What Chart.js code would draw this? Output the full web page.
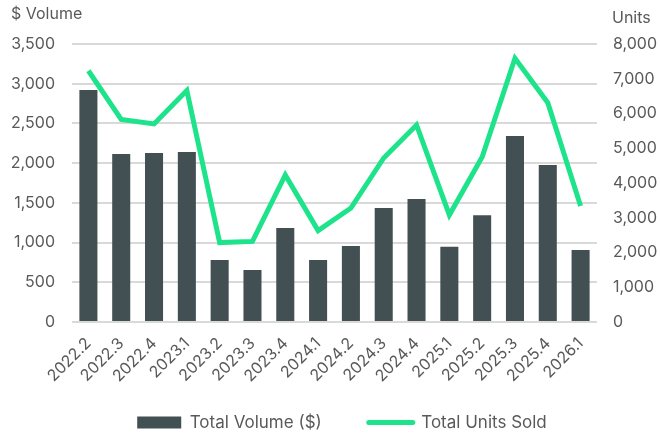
<!DOCTYPE html>
<html>
<head>
<meta charset="utf-8">
<script src="https://cdn.jsdelivr.net/npm/chart.js"></script>
<style>
  html, body { margin: 0; padding: 0; background: #fff; }
  #wrap { width: 660px; height: 437px; }
</style>
</head>
<body>
<div id="wrap"><canvas id="chart" width="660" height="437"></canvas></div>
<script>
// quarters on the x axis
const quarters = ['2022.2', '2022.3', '2022.4', '2023.1', '2023.2', '2023.3', '2023.4', '2024.1',
                  '2024.2', '2024.3', '2024.4', '2025.1', '2025.2', '2025.3', '2025.4', '2026.1'];

// total volume in $ (left axis)
const totalVolume = [2920, 2115, 2128, 2140, 780, 655, 1183, 780,
                     957, 1435, 1549, 948, 1343, 2342, 1977, 906];

// total units sold (right axis)
const unitsSold = [7230, 5830, 5700, 6660, 2285, 2320, 4230, 2630,
                   3280, 4720, 5670, 3080, 4750, 7590, 6310, 3340];

const volumeTicks = { min: 0, max: 3500, step: 500 };
const unitTicks = { min: 0, max: 8000, step: 1000 };

const textColor = '#595959';
const barColor = '#435053';
const lineColor = '#1de38b';
const fontFamily = 'Inter, "Noto Sans", sans-serif';

// axis titles sit above each axis, not beside it
const axisTitles = {
    id: 'axisTitles',
    afterDraw(chart) {
        const ctx = chart.ctx;
        ctx.save();
        ctx.fillStyle = textColor;
        ctx.font = '16px ' + fontFamily;
        ctx.textBaseline = 'middle';
        ctx.textAlign = 'left';
        ctx.fillText('$ Volume', 11, 14);
        ctx.fillText('Units', 612, 18);
        ctx.restore();
    }
};

// wide gap between legend items needs a big label padding,
// so the legend takes little room in the layout and is stretched up afterwards
const legendPlacement = {
    id: 'legendPlacement',
    beforeInit(chart) {
        const legend = chart.legend;
        if (!legend) return;
        const fit = legend.fit;
        legend.fit = function () {
            fit.call(this);
            this.height = 42;
        };
    },
    afterLayout(chart) {
        const legend = chart.legend;
        if (!legend) return;
        legend.top = 367;
        legend.bottom = chart.height;
        legend.height = legend.bottom - legend.top;
        // reference legend sits a little right of centre
        legend.left += 12;
        legend.right += 12;
    }
};

new Chart(document.getElementById('chart'), {
    data: {
        labels: quarters,
        datasets: [
            {
                type: 'line',
                label: 'Total Units Sold',
                data: unitsSold,
                yAxisID: 'yUnits',
                borderColor: lineColor,
                backgroundColor: lineColor,
                borderWidth: 5,
                pointRadius: 0,
                tension: 0,
                order: 0
            },
            {
                type: 'bar',
                label: 'Total Volume ($)',
                data: totalVolume,
                yAxisID: 'yVolume',
                backgroundColor: barColor,
                borderWidth: 0,
                barPercentage: 0.55,
                categoryPercentage: 1,
                order: 1
            }
        ]
    },
    options: {
        responsive: false,
        animation: false,
        layout: { padding: { top: 44, left: 0, right: 0, bottom: 0 } },
        plugins: {
            tooltip: { enabled: false },
            legend: {
                position: 'bottom',
                reverse: true,
                labels: {
                    color: textColor,
                    font: { size: 17, family: fontFamily },
                    usePointStyle: true,
                    pointStyleWidth: 44,
                    boxHeight: 12,
                    padding: 47,
                    generateLabels(chart) {
                        return chart.data.datasets.map((ds, i) => ({
                            text: ds.label,
                            fillStyle: ds.backgroundColor,
                            strokeStyle: ds.type === 'line' ? ds.borderColor : ds.backgroundColor,
                            lineWidth: ds.type === 'line' ? 5 : 0,
                            lineCap: 'round',
                            pointStyle: ds.type === 'line' ? 'line' : 'rect',
                            fontColor: textColor,
                            datasetIndex: i,
                            hidden: false
                        }));
                    }
                }
            }
        },
        scales: {
            x: {
                grid: { display: false },
                border: { display: false },
                ticks: {
                    color: textColor,
                    font: { size: 16, family: fontFamily },
                    maxRotation: 45,
                    minRotation: 45,
                    autoSkip: false,
                    padding: 4
                },
                afterFit(scale) { scale.height = 73; }
            },
            yVolume: {
                position: 'left',
                min: volumeTicks.min,
                max: volumeTicks.max,
                border: { display: false },
                grid: { color: '#d9d9d9', lineWidth: 2, drawTicks: false },
                ticks: {
                    stepSize: volumeTicks.step,
                    color: textColor,
                    font: { size: 16, family: fontFamily },
                    padding: 17,
                    callback: v => v.toLocaleString('en-US')
                },
                afterFit(scale) { scale.width = 72; }
            },
            yUnits: {
                position: 'right',
                min: unitTicks.min,
                max: unitTicks.max,
                border: { display: false },
                grid: { display: false, drawTicks: false },
                ticks: {
                    stepSize: unitTicks.step,
                    color: textColor,
                    font: { size: 16, family: fontFamily },
                    padding: 16,
                    callback: v => v.toLocaleString('en-US')
                },
                afterFit(scale) { scale.width = 63; }
            }
        }
    },
    plugins: [axisTitles, legendPlacement]
});
</script>
</body>
</html>
